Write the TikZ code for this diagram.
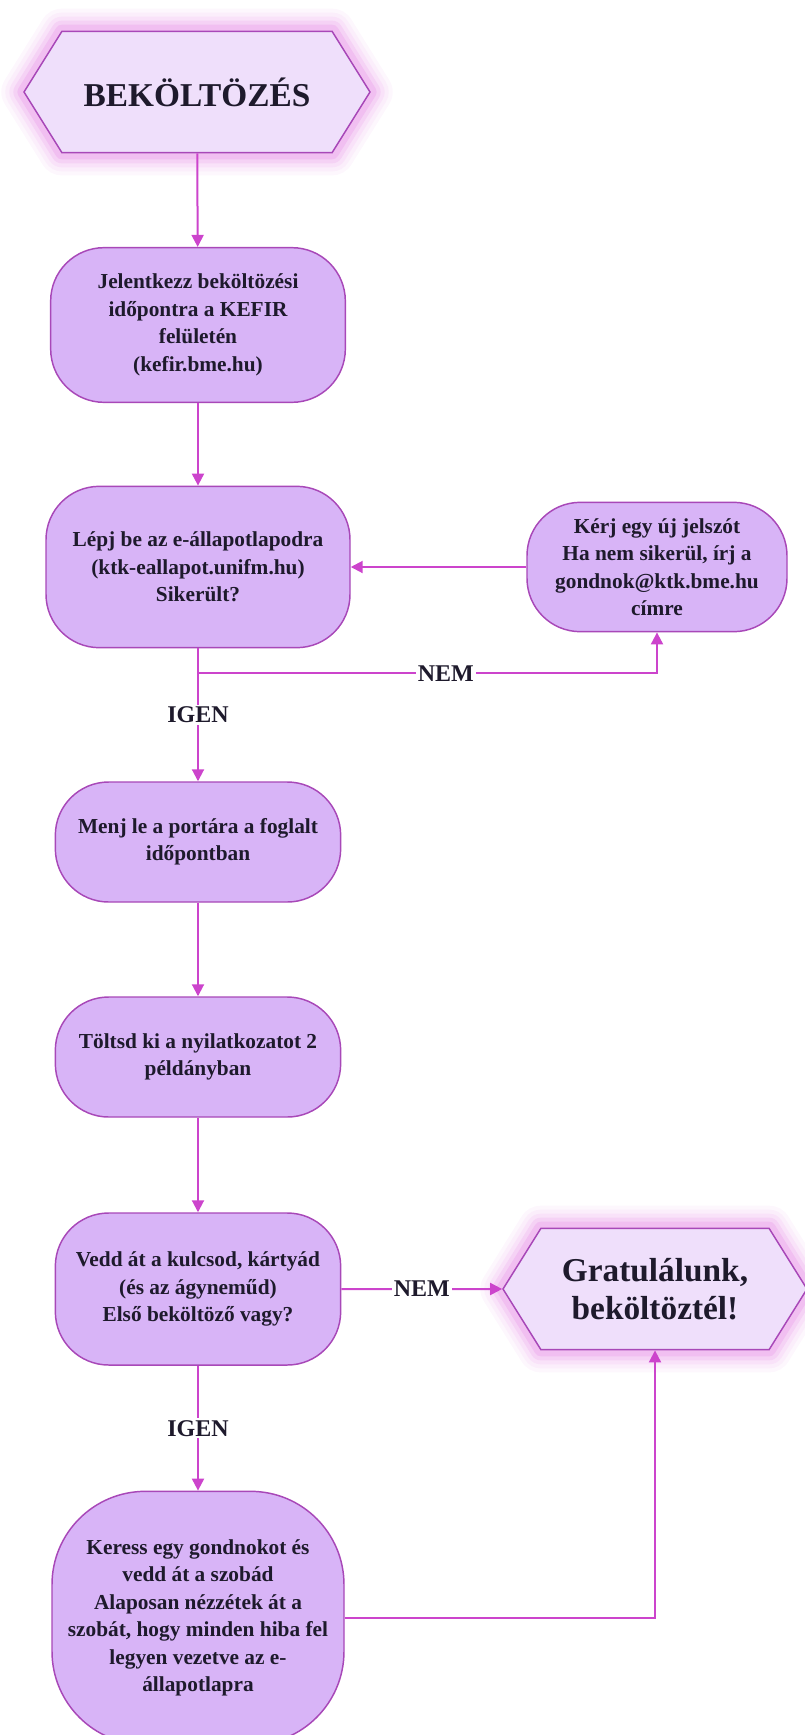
\documentclass[tikz,border=0pt]{standalone}
\usepackage{fontspec}
\setmainfont{Liberation Serif}
\usetikzlibrary{shapes.symbols,arrows.meta}
\definecolor{boxc}{HTML}{D8B4F7}
\definecolor{hexc}{HTML}{EFDFFB}
\definecolor{borderc}{HTML}{A848B8}
\definecolor{linec}{HTML}{CC44CC}
\definecolor{glowc}{HTML}{E27AE2}
\definecolor{textc}{HTML}{1E1A2C}
\tikzstyle{lepes} = [
  draw=borderc,
  fill=boxc,
  line width=1.1pt,
  rounded corners=40pt,
  align=center,
  inner sep=0pt,
  text=textc,
  font=\bfseries\fontsize{16}{20.6}\selectfont,
]
\tikzstyle{hatszog} = [
  signal,
  signal to=east and west,
  signal pointer angle=116,
  preaction={draw=glowc!6, line width=34pt, line join=round},
  preaction={draw=glowc!13, line width=28pt, line join=round},
  preaction={draw=glowc!22, line width=22pt, line join=round},
  preaction={draw=glowc!34, line width=16pt, line join=round},
  preaction={draw=glowc!48, line width=10pt, line join=round},
  draw=borderc,
  fill=hexc,
  line width=1.1pt,
  align=center,
  inner sep=0pt,
  text=textc,
  font=\bfseries\fontsize{25}{28.5}\selectfont,
]
\tikzstyle{nyil} = [
  draw=linec,
  line width=1.5pt,
  -{Triangle[length=9pt,width=9pt]},
]
\tikzstyle{felirat} = [
  fill=white,
  inner sep=1.5pt,
  text=textc,
  font=\bfseries\fontsize{18}{20}\selectfont,
]

\begin{document}
\begin{tikzpicture}[x=0.75pt, y=-0.75pt]
    \useasboundingbox (0,0) rectangle (805,1735);

    % Start and end
    \node[hatszog, minimum width=259.5pt, minimum height=91pt] (start) at (197,92) {BEKÖLTÖZÉS};
    \node[hatszog, minimum width=228pt, minimum height=91pt] (vege) at (655,1289) {Gratulálunk,\\beköltöztél!};

    % Steps
    \node[lepes, minimum width=221pt, minimum height=116pt] (k1) at (198,325)
        {Jelentkezz beköltözési\\időpontra a KEFIR\\felületén\\(kefir.bme.hu)};
    \node[lepes, minimum width=228pt, minimum height=121pt] (k2) at (198,567)
        {Lépj be az e-állapotlapodra\\(ktk-eallapot.unifm.hu)\\Sikerült?};
    \node[lepes, minimum width=195pt, minimum height=97pt] (jelszo) at (657,567)
        {Kérj egy új jelszót\\Ha nem sikerül, írj a\\gondnok@ktk.bme.hu\\címre};
    \node[lepes, minimum width=214pt, minimum height=90pt] (k3) at (198,842)
        {Menj le a portára a foglalt\\időpontban};
    \node[lepes, minimum width=214pt, minimum height=90pt] (k4) at (198,1057)
        {Töltsd ki a nyilatkozatot 2\\példányban};
    \node[lepes, minimum width=214pt, minimum height=114pt] (k5) at (198,1289)
        {Vedd át a kulcsod, kártyád\\(és az ágyneműd)\\Első beköltöző vagy?};
    \node[lepes, rounded corners=70pt, minimum width=219pt, minimum height=190pt] (k6) at (198,1618)
        {Keress egy gondnokot és\\vedd át a szobád\\Alaposan nézzétek át a\\szobát, hogy minden hiba fel\\legyen vezetve az e-\\állapotlapra};

    % Arrows
    \coordinate (elag) at ([yshift=-18.75pt]k2.south);
    \draw[nyil] (start) -- (k1);
    \draw[nyil] (k1) -- (k2);
    \draw[nyil] (jelszo) -- (k2);
    \draw[nyil] (k2) -- node[felirat] {IGEN} (k3);
    \draw[nyil] (elag) -- node[felirat, pos=0.54] {NEM} (elag -| jelszo) -- (jelszo);
    \draw[nyil] (k3) -- (k4);
    \draw[nyil] (k4) -- (k5);
    \draw[nyil] (k5) -- node[felirat] {NEM} (vege);
    \draw[nyil] (k5) -- node[felirat] {IGEN} (k6);
    \draw[nyil] (k6) -| (vege);
\end{tikzpicture}
\end{document}
